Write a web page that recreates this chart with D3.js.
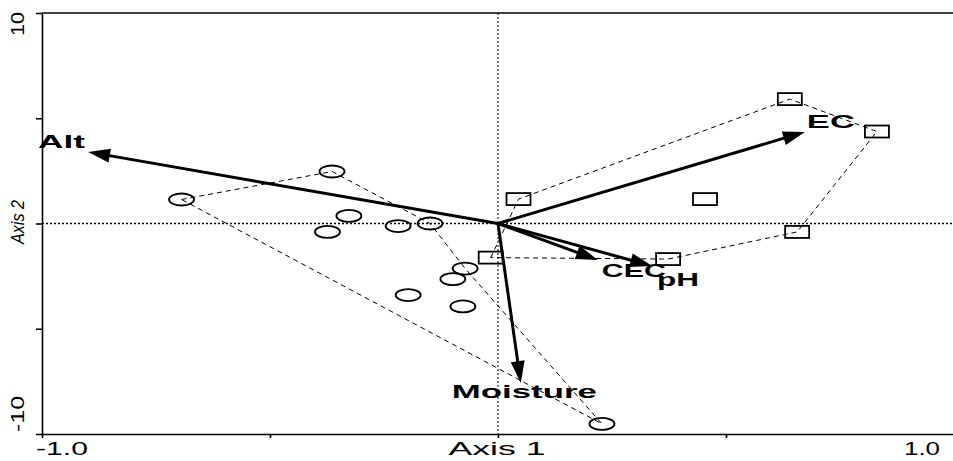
<!DOCTYPE html>
<html>
<head>
<meta charset="utf-8">
<script src="https://cdn.jsdelivr.net/npm/d3@7"></script>
<style>
    body { margin: 0; background: #fff; }
    svg { display: block; font-family: 'Liberation Sans', Arial, sans-serif; }
    .hull { fill: none; stroke: #000; stroke-width: 1; stroke-dasharray: 5,4; }
    .site { fill: none; stroke: #000; stroke-width: 1.8; }
    .zero { stroke: #000; stroke-dasharray: 2,2; }
    .vec { stroke: #000; stroke-width: 3; }
    .axis path, .axis line { stroke: #000; stroke-width: 1.6; }
</style>
</head>
<body>
<svg class="ord" width="953" height="461"></svg>
<script>
// environmental vectors (axis 1 score, axis 2 score)
const vecNames = ['Alt', 'EC', 'CEC', 'pH', 'Moisture'];
const vecX = [-0.899, 0.673, 0.219, 0.338, 0.050];
const vecY = [3.40, 4.35, -1.73, -2.02, -7.58];

// group 1 sites (ellipses)
const ovalX = [-0.694, -0.364, -0.327, -0.374, -0.219, -0.149, -0.072, -0.099, -0.197, -0.077, 0.228];
const ovalY = [1.14, 2.47, 0.36, -0.40, -0.12, 0.00, -2.14, -2.64, -3.40, -3.94, -9.52];
const ovalHull = [0, 1, 5, 6, 10];

// group 2 sites (boxes)
const boxX = [0.045, -0.016, 0.640, 0.831, 0.454, 0.656, 0.373];
const boxY = [1.16, -1.62, 5.91, 4.37, 1.16, -0.40, -1.69];
const boxHull = [1, 0, 2, 3, 5, 6];

const xTicks = [-1, -0.5, 0, 0.5, 1];
const yTicks = [-10, -5, 0, 5, 10];

const svg = d3.select('.ord');
const margin = { top: 13, right: -1, bottom: 27, left: 42 };
const w = 953;
const h = 461;

const x = d3.scaleLinear().domain([-1, 1]).range([margin.left, w - margin.right]);
const y = d3.scaleLinear().domain([-10, 10]).range([h - margin.bottom, margin.top]);

// label nudges from arrow tips, in px
const labelPos = {
    Alt: { dx: -50, dy: -4, len: 47 },
    EC: { dx: 2, dy: -4, len: 48 },
    CEC: { dx: 4, dy: 17, len: 64 },
    pH: { dx: 5, dy: 20, len: 42 },
    Moisture: { dx: -69, dy: 15, len: 145 }
};

// frame + axes
svg.append('line')
    .attr('x1', x(-1)).attr('x2', w).attr('y1', y(10)).attr('y2', y(10))
    .attr('stroke', '#000').attr('stroke-width', 1.6);

svg.append('g')
    .attr('class', 'axis')
    .attr('transform', `translate(0,${y(-10)})`)
    .call(d3.axisBottom(x).tickValues(xTicks).tickFormat('').tickSizeInner(4).tickSizeOuter(0));

svg.append('g')
    .attr('class', 'axis')
    .attr('transform', `translate(${x(-1)},0)`)
    .call(d3.axisLeft(y).tickValues(yTicks).tickFormat('').tickSizeInner(6).tickSizeOuter(0));

svg.append('line').attr('class', 'zero')
    .attr('x1', x(-1)).attr('x2', w).attr('y1', y(0)).attr('y2', y(0))
    .attr('stroke-width', 1.6);

svg.append('line').attr('class', 'zero')
    .attr('x1', x(0)).attr('x2', x(0)).attr('y1', y(10)).attr('y2', y(-10))
    .attr('stroke-width', 1).attr('stroke-dasharray', '1,1');

// tick labels
const tick = (txt, tx, ty, len, anchor) => svg.append('text')
    .attr('x', tx).attr('y', ty)
    .attr('font-size', 18)
    .attr('text-anchor', anchor)
    .attr('textLength', len)
    .attr('lengthAdjust', 'spacingAndGlyphs')
    .text(txt);

tick('-1.0', x(-1) - 6, 455, 52, 'start');
tick('Axis 1', x(0) - 1, 455, 97, 'middle');
tick('1.0', x(1) - 14, 455, 36, 'end');

const ytick = (txt, pos, len, italic) => svg.append('text')
    .attr('transform', `translate(24,${pos}) rotate(-90)`)
    .attr('font-size', 18)
    .attr('font-style', italic ? 'italic' : 'normal')
    .attr('textLength', len)
    .attr('lengthAdjust', 'spacingAndGlyphs')
    .text(txt);

ytick('10', 36, 24);
ytick('-10', 432, 36);
ytick('Axis 2', 244, 44, true);

// convex hulls
const hullLine = d3.line().x((d) => x(d[0])).y((d) => y(d[1]));

svg.append('path').attr('class', 'hull')
    .attr('d', hullLine(ovalHull.map((i) => [ovalX[i], ovalY[i]])) + 'Z');

svg.append('path').attr('class', 'hull')
    .attr('d', hullLine(boxHull.map((i) => [boxX[i], boxY[i]])) + 'Z');

// sites
svg.selectAll('.oval')
    .data(ovalX)
    .enter()
    .append('ellipse')
    .attr('class', 'site oval')
    .attr('cx', (d) => x(d))
    .attr('cy', (d, i) => y(ovalY[i]))
    .attr('rx', 12.5)
    .attr('ry', 6);

svg.selectAll('.box')
    .data(boxX)
    .enter()
    .append('rect')
    .attr('class', 'site box')
    .attr('x', (d) => x(d) - 12)
    .attr('y', (d, i) => y(boxY[i]) - 6)
    .attr('width', 24)
    .attr('height', 12);

// vectors
const x0 = x(0);
const y0 = y(0);
const headLen = 22;
const headHalf = 7;

vecNames.forEach((name, i) => {
    const tx = x(vecX[i]);
    const ty = y(vecY[i]);
    const len = Math.hypot(tx - x0, ty - y0);
    const ux = (tx - x0) / len;
    const uy = (ty - y0) / len;
    const bx = tx - ux * headLen;
    const by = ty - uy * headLen;

    svg.append('line').attr('class', 'vec')
        .attr('x1', x0).attr('y1', y0)
        .attr('x2', bx + ux * 2).attr('y2', by + uy * 2);

    svg.append('path')
        .attr('d', `M${tx},${ty}L${bx - uy * headHalf},${by + ux * headHalf}L${bx + uy * headHalf},${by - ux * headHalf}Z`)
        .attr('fill', '#000');

    const lp = labelPos[name];
    svg.append('text')
        .attr('x', tx + lp.dx)
        .attr('y', ty + lp.dy)
        .attr('font-size', 18)
        .attr('font-weight', 'bold')
        .attr('textLength', lp.len)
        .attr('lengthAdjust', 'spacingAndGlyphs')
        .text(name);
});
</script>
</body>
</html>
